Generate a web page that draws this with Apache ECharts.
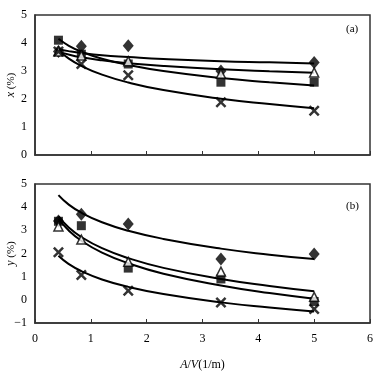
<!DOCTYPE html>
<html>
<head>
<meta charset="utf-8">
<script src="https://cdn.jsdelivr.net/npm/echarts@6/dist/echarts.min.js"></script>
<style>
  html, body { margin: 0; padding: 0; background: #fff; }
  #chart { width: 387px; height: 376px; }
</style>
</head>
<body>
<div id="chart"></div>
<script>
// A/V (1/m) where samples were taken
var xPts = [0.42, 0.83, 1.67, 3.33, 5];
var fitX = [0.42, 0.6, 0.83, 1.2, 1.67, 2.3, 3.33, 4.2, 5];

// (a) x (%) measured
var aDiamond  = [3.70, 3.88, 3.90, 3.00, 3.30];
var aSquare   = [4.10, 3.60, 3.25, 2.60, 2.60];
var aTriangle = [3.70, 3.55, 3.35, 2.90, 2.95];
var aCross    = [3.70, 3.25, 2.85, 1.88, 1.58];
// (a) fitted curves
var aFitDiamond  = [3.78, 3.71, 3.64, 3.56, 3.50, 3.43, 3.35, 3.31, 3.27];
var aFitTriangle = [3.70, 3.59, 3.49, 3.38, 3.28, 3.18, 3.06, 2.99, 2.94];
var aFitSquare   = [4.15, 3.91, 3.69, 3.44, 3.22, 3.00, 2.75, 2.60, 2.48];
var aFitCross    = [3.75, 3.45, 3.18, 2.87, 2.59, 2.32, 2.01, 1.82, 1.67];

// (b) y (%) measured
var bDiamond  = [3.40, 3.69, 3.27, 1.76, 1.98];
var bSquare   = [3.39, 3.20, 1.37, 0.90, -0.07];
var bTriangle = [3.17, 2.60, 1.64, 1.22, 0.13];
var bCross    = [2.05, 1.07, 0.39, -0.12, -0.40];
// (b) fitted curves
var bFitDiamond  = [4.52, 4.12, 3.76, 3.35, 2.98, 2.63, 2.21, 1.95, 1.76];
var bFitTriangle = [3.60, 3.13, 2.71, 2.23, 1.80, 1.38, 0.90, 0.60, 0.37];
var bFitSquare   = [3.50, 3.00, 2.55, 2.04, 1.58, 1.13, 0.62, 0.29, 0.05];
var bFitCross    = [1.90, 1.55, 1.24, 0.88, 0.56, 0.25, -0.11, -0.33, -0.50];

var serif = '"Liberation Serif", "DejaVu Serif", serif';
var crossPath = 'path://M0,1.6 L1.6,0 L5,3.4 L8.4,0 L10,1.6 L6.6,5 L10,8.4 L8.4,10 L5,6.6 L1.6,10 L0,8.4 L3.4,5 Z';

function pairs(xs, ys) {
  return xs.map(function (x, i) { return [x, ys[i]]; });
}

function fit(ys, idx) {
  return {
    type: 'line', xAxisIndex: idx, yAxisIndex: idx,
    data: pairs(fitX, ys), smooth: 0.5,
    showSymbol: false, silent: true, z: 2,
    lineStyle: { color: '#000', width: 2 }
  };
}

function pts(ys, idx, kind) {
  var s = {
    type: 'scatter', xAxisIndex: idx, yAxisIndex: idx,
    data: pairs(xPts, ys), z: 3, silent: true
  };
  if (kind === 'diamond') {
    s.symbol = 'diamond'; s.symbolSize = [11, 13];
    s.itemStyle = { color: '#000' };
  } else if (kind === 'square') {
    s.symbol = 'rect'; s.symbolSize = 9;
    s.itemStyle = { color: '#000' };
  } else if (kind === 'triangle') {
    s.symbol = 'triangle'; s.symbolSize = [9, 9];
    s.itemStyle = { color: '#fff', borderColor: '#000', borderWidth: 1.5 };
  } else {
    s.symbol = crossPath; s.symbolSize = 11;
    s.itemStyle = { color: '#000' };
  }
  return s;
}

function xAxis(idx, showLabels) {
  return {
    type: 'value', gridIndex: idx, min: 0, max: 6, interval: 1,
    axisLine: { show: true, onZero: false, lineStyle: { color: '#333', width: 1.5 } },
    axisTick: { show: true, inside: true, length: 4, lineStyle: { color: '#333' } },
    axisLabel: { show: showLabels, color: '#000', fontFamily: serif, fontSize: 12, margin: 10 },
    splitLine: { show: false },
    name: showLabels ? '{i|A}/{i|V}(1/m)' : '',
    nameLocation: 'middle', nameGap: 36, nameMoveOverlap: false,
    nameTextStyle: {
      color: '#000', fontFamily: serif, fontSize: 12,
      rich: { i: { fontStyle: 'italic', fontFamily: serif, fontSize: 12, color: '#000' } }
    }
  };
}

function yAxis(idx, min, max, letter) {
  return {
    type: 'value', gridIndex: idx, min: min, max: max, interval: 1,
    axisLine: { show: true, onZero: false, lineStyle: { color: '#333', width: 1.5 } },
    axisTick: { show: false },
    axisLabel: {
      color: '#000', fontFamily: serif, fontSize: 12, margin: 8,
      formatter: function (v) { return String(v).replace('-', '\u2212'); }
    },
    splitLine: { show: false },
    name: '{i|' + letter + '} (%)',
    nameLocation: 'middle', nameGap: 18, nameRotate: 90, nameMoveOverlap: false,
    nameTextStyle: {
      color: '#000', fontFamily: serif, fontSize: 11,
      rich: { i: { fontStyle: 'italic', fontFamily: serif, fontSize: 12, color: '#000' } }
    }
  };
}

var chart = echarts.init(document.getElementById('chart'));
chart.setOption({
  animation: false,
  backgroundColor: '#fff',
  grid: [
    { left: 35, top: 15, width: 335, height: 140, outerBoundsMode: 'none', containLabel: false,
      show: true, borderColor: '#333', borderWidth: 1.5 },
    { left: 35, top: 184, width: 335, height: 139, outerBoundsMode: 'none', containLabel: false,
      show: true, borderColor: '#333', borderWidth: 1.5 }
  ],
  xAxis: [xAxis(0, false), xAxis(1, true)],
  yAxis: [yAxis(0, 0, 5, 'x'), yAxis(1, -1, 5, 'y')],
  graphic: [
    { type: 'text', left: 346, top: 24, style: { text: '(a)', font: '11px ' + serif, fill: '#000' } },
    { type: 'text', left: 346, top: 201, style: { text: '(b)', font: '11px ' + serif, fill: '#000' } }
  ],
  series: [
    fit(aFitDiamond, 0), fit(aFitTriangle, 0), fit(aFitSquare, 0), fit(aFitCross, 0),
    pts(aDiamond, 0, 'diamond'), pts(aSquare, 0, 'square'),
    pts(aTriangle, 0, 'triangle'), pts(aCross, 0, 'cross'),
    fit(bFitDiamond, 1), fit(bFitTriangle, 1), fit(bFitSquare, 1), fit(bFitCross, 1),
    pts(bDiamond, 1, 'diamond'), pts(bSquare, 1, 'square'),
    pts(bTriangle, 1, 'triangle'), pts(bCross, 1, 'cross')
  ]
});
</script>
</body>
</html>
